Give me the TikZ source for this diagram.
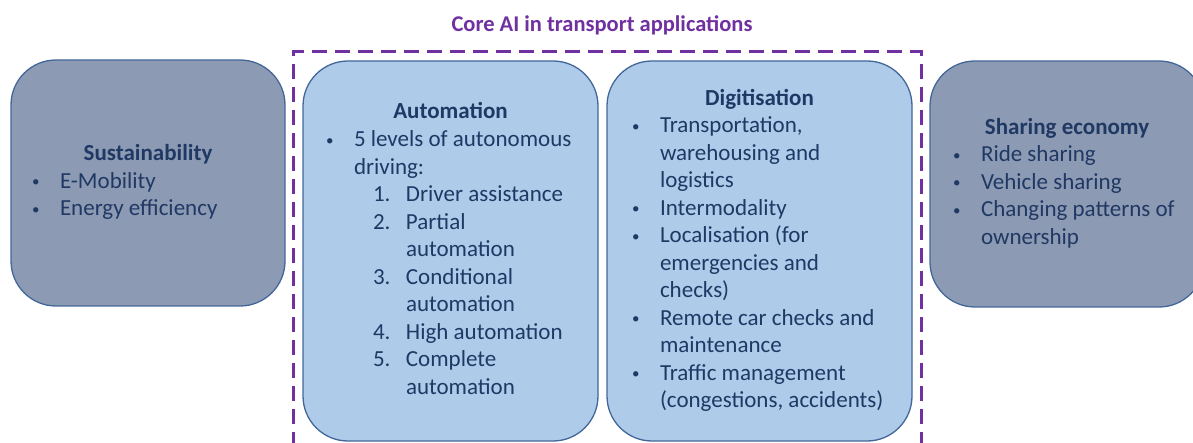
\documentclass[tikz,border=0pt]{standalone}
\usepackage{fontspec}
\setmainfont{Carlito}
\definecolor{greyfill}{HTML}{8C9BB3}
\definecolor{bluefill}{HTML}{AECBEA}
\definecolor{boxline}{HTML}{44679A}
\definecolor{navytext}{HTML}{203864}
\definecolor{corepurple}{HTML}{7030A0}
\newcommand{\smalldot}{\raisebox{1.5pt}{\fontsize{15}{15}\selectfont\textbullet}}
\newcommand{\bul}[1]{\strut\hspace*{-3pt}\makebox[28pt][l]{\smalldot}#1}
\newcommand{\contline}[1]{\strut\hspace*{25pt}#1}
\newcommand{\levelline}[2]{\strut\hspace*{44pt}\makebox[33pt][l]{#1}#2}
\newcommand{\levelwrap}[1]{\strut\hspace*{77pt}#1}
\newcommand{\boxtitle}[2]{\makebox[#1][c]{\strut\textbf{#2}}}

\begin{document}
\begin{tikzpicture}[x=1pt, y=-1pt,
  block/.style={draw=boxline, line width=1.3pt, rounded corners=45pt, align=left,
    inner sep=0pt, text=navytext, font=\fontsize{23}{27.5}\selectfont},
  greyblock/.style={block, fill=greyfill},
  blueblock/.style={block, fill=bluefill}]
\useasboundingbox (0,0) rectangle (1193,443);

\node[text=corepurple, font=\fontsize{22.5}{26}\selectfont\bfseries] (core) at (602,25) {Core AI in transport applications};
\draw[corepurple, line width=3pt, dash pattern=on 15pt off 8pt] (293,470) -- (293,52) -- (921,52) -- (921,470);

\node[greyblock, minimum width=274pt, minimum height=246pt] (sustain) at (148,183)
  {\boxtitle{226pt}{Sustainability}\\ \bul{E-Mobility}\\ \bul{Energy efficiency}};

\node[blueblock, minimum width=295pt, minimum height=380pt] (autom) at (450.5,251)
  {\boxtitle{243pt}{Automation}\\ \bul{5 levels of autonomous}\\ \contline{driving:}\\
   \levelline{1.}{Driver assistance}\\ \levelline{2.}{Partial}\\ \levelwrap{automation}\\
   \levelline{3.}{Conditional}\\ \levelwrap{automation}\\ \levelline{4.}{High automation}\\
   \levelline{5.}{Complete}\\ \levelwrap{automation}};

\node[blueblock, minimum width=305pt, minimum height=380pt] (digit) at (759.5,251)
  {\boxtitle{249pt}{Digitisation}\\ \bul{Transportation,}\\ \contline{warehousing and}\\
   \contline{logistics}\\ \bul{Intermodality}\\ \bul{Localisation (for}\\
   \contline{emergencies and}\\ \contline{checks)}\\ \bul{Remote car checks and}\\
   \contline{maintenance}\\ \bul{Traffic management}\\ \contline{(congestions, accidents)}};

\node[greyblock, minimum width=274pt, minimum height=246pt] (share) at (1067,184)
  {\boxtitle{222pt}{Sharing economy}\\ \bul{Ride sharing}\\ \bul{Vehicle sharing}\\
   \bul{Changing patterns of}\\ \contline{ownership}};
\end{tikzpicture}
\end{document}
